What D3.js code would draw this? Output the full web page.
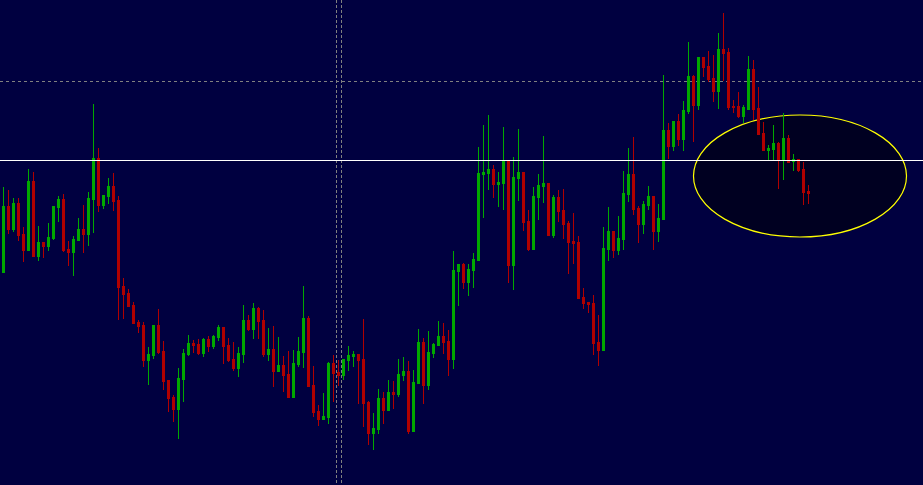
<!DOCTYPE html>
<html>
<head>
<meta charset="utf-8">
<script src="https://cdn.jsdelivr.net/npm/d3@7"></script>
<style>
html,body{margin:0;padding:0;background:#000040;overflow:hidden;}
svg{display:block;}
</style>
</head>
<body>
<svg id="chart" width="923" height="485"></svg>
<script>
// OHLC price values (arbitrary price units), one entry per bar
const opens = [228,294,271,297,266,250,319,244,258,254,262,293,301,251,248,260,271,266,301,342,295,304,314,300,214,207,195,178,175,140,145,175,149,120,103,91,121,146,157,156,147,161,154,163,173,155,141,132,146,180,171,192,180,146,151,129,135,126,103,136,148,182,115,89,81,83,137,128,125,140,144,146,141,98,67,71,102,90,108,106,125,129,69,117,158,115,147,155,164,159,141,229,236,218,230,240,326,327,331,316,317,339,235,322,328,279,251,303,314,317,265,303,290,277,259,258,203,198,197,158,150,251,269,250,261,306,326,292,276,295,304,269,281,370,354,379,361,389,424,395,443,434,422,409,451,448,394,394,384,391,431,392,367,350,351,357,340,362,339,341,331,309];
const highs = [313,310,302,302,273,331,328,274,258,277,294,304,306,259,264,282,295,308,396,352,305,322,327,304,222,211,198,180,178,153,175,191,159,120,105,132,151,165,160,161,162,164,165,175,173,162,158,153,195,185,197,193,190,172,174,163,144,149,150,163,214,184,134,95,107,138,145,140,141,154,149,146,181,99,87,111,108,120,119,141,143,139,130,171,162,169,157,179,177,170,249,236,237,236,247,353,375,385,335,328,373,340,343,371,328,290,313,326,364,317,305,310,311,279,287,264,212,198,205,185,273,293,269,284,329,352,363,294,299,314,304,296,425,377,379,386,399,458,425,443,443,449,445,467,487,452,400,408,395,444,440,413,378,355,375,358,387,365,346,341,338,315];
const lows = [228,267,269,260,239,250,244,240,243,250,261,279,249,235,225,260,248,255,268,289,292,297,290,181,182,194,177,168,134,116,142,147,111,89,79,62,99,145,148,146,144,149,152,160,137,139,130,124,138,170,162,162,144,140,114,129,109,103,103,134,133,114,84,75,81,77,99,115,121,130,134,97,74,56,51,67,77,90,92,104,120,67,69,117,97,111,143,155,147,125,132,195,212,205,213,240,283,311,303,294,291,218,211,300,270,250,251,281,298,265,263,279,262,227,237,202,192,188,146,135,150,240,243,246,251,299,286,258,267,291,251,259,281,342,350,355,350,387,359,391,424,419,399,392,420,391,388,383,378,391,381,366,350,340,340,312,321,338,330,329,296,297];
const closes = [294,271,297,265,250,319,244,258,254,263,294,301,250,248,261,271,266,302,342,295,305,314,299,213,206,194,177,174,140,146,175,148,119,102,91,122,147,157,155,147,161,154,164,173,154,140,132,147,180,171,192,179,146,151,129,135,125,103,137,149,182,114,88,81,84,137,127,125,141,145,146,140,97,67,72,102,90,108,106,126,129,69,118,158,115,148,156,164,158,141,230,236,218,231,241,327,328,331,316,318,340,235,323,328,278,251,304,315,317,265,303,289,276,258,257,202,197,196,157,150,252,269,250,262,307,326,291,276,296,304,269,282,370,354,379,361,390,424,395,443,433,421,409,451,447,393,393,384,393,431,391,366,350,352,357,340,362,338,341,330,308,307];

// Reference levels (same price units)
const solidLevel = 340;       // white horizontal line
const dashedLevel = 419;      // grey dotted horizontal line
const separatorIdx = [66.6, 67.6]; // grey dotted vertical lines (bar index)
// Highlight ellipse: centre (bar index, price), radii (bars, price)
const ellipseSpec = {cx: 159.3, cy: 324, rx: 21.3, ry: 61};

const W = 923, H = 485;
const bars = opens.map((o, i) => ({i, o, h: highs[i], l: lows[i], c: closes[i]}));

const x = d3.scaleLinear().domain([0, bars.length - 1]).range([3.5, 3.5 + 5 * (bars.length - 1)]);
const y = d3.scaleLinear().domain([0, 500]).range([500, 0]);

const svg = d3.select('#chart');
svg.append('rect').attr('width', W).attr('height', H).attr('fill', '#000040');

// ellipse highlight (behind bars)
svg.append('ellipse')
  .attr('cx', x(ellipseSpec.cx))
  .attr('cy', y(ellipseSpec.cy))
  .attr('rx', x(ellipseSpec.rx) - x(0))
  .attr('ry', y(0) - y(ellipseSpec.ry))
  .attr('fill', '#000021')
  .attr('stroke', '#ffff00')
  .attr('stroke-width', 1.2);

// dotted grid lines
svg.append('line')
  .attr('x1', 0).attr('x2', W)
  .attr('y1', Math.round(y(dashedLevel)) + 0.5).attr('y2', Math.round(y(dashedLevel)) + 0.5)
  .attr('stroke', '#808080').attr('stroke-dasharray', '3,3').attr('stroke-width', 1);

svg.selectAll('line.sep').data(separatorIdx).join('line')
  .attr('class', 'sep')
  .attr('x1', d => Math.floor(x(d)) + 0.5).attr('x2', d => Math.floor(x(d)) + 0.5)
  .attr('y1', 0).attr('y2', H)
  .attr('stroke', '#808080').attr('stroke-dasharray', '3,2').attr('stroke-width', 1);

const up = '#00a800', down = '#b00000';
const g = svg.append('g');

// wicks
g.selectAll('rect.wick').data(bars).join('rect')
  .attr('class', 'wick')
  .attr('x', d => x(d.i) - 0.5)
  .attr('width', 1)
  .attr('y', d => y(d.h))
  .attr('height', d => Math.max(1, y(d.l) - y(d.h) + 1))
  .attr('fill', d => d.c >= d.o ? up : down);

// bodies
g.selectAll('rect.body').data(bars).join('rect')
  .attr('class', 'body')
  .attr('x', d => x(d.i) - 1.5)
  .attr('width', 3)
  .attr('y', d => y(Math.max(d.o, d.c)))
  .attr('height', d => Math.max(1, Math.abs(y(d.o) - y(d.c)) + 1))
  .attr('fill', d => d.c >= d.o ? up : down);

// solid white level line (on top)
svg.append('line')
  .attr('x1', 0).attr('x2', W)
  .attr('y1', Math.round(y(solidLevel)) + 0.5).attr('y2', Math.round(y(solidLevel)) + 0.5)
  .attr('stroke', '#ffffff').attr('stroke-width', 1);
</script>
</body>
</html>
